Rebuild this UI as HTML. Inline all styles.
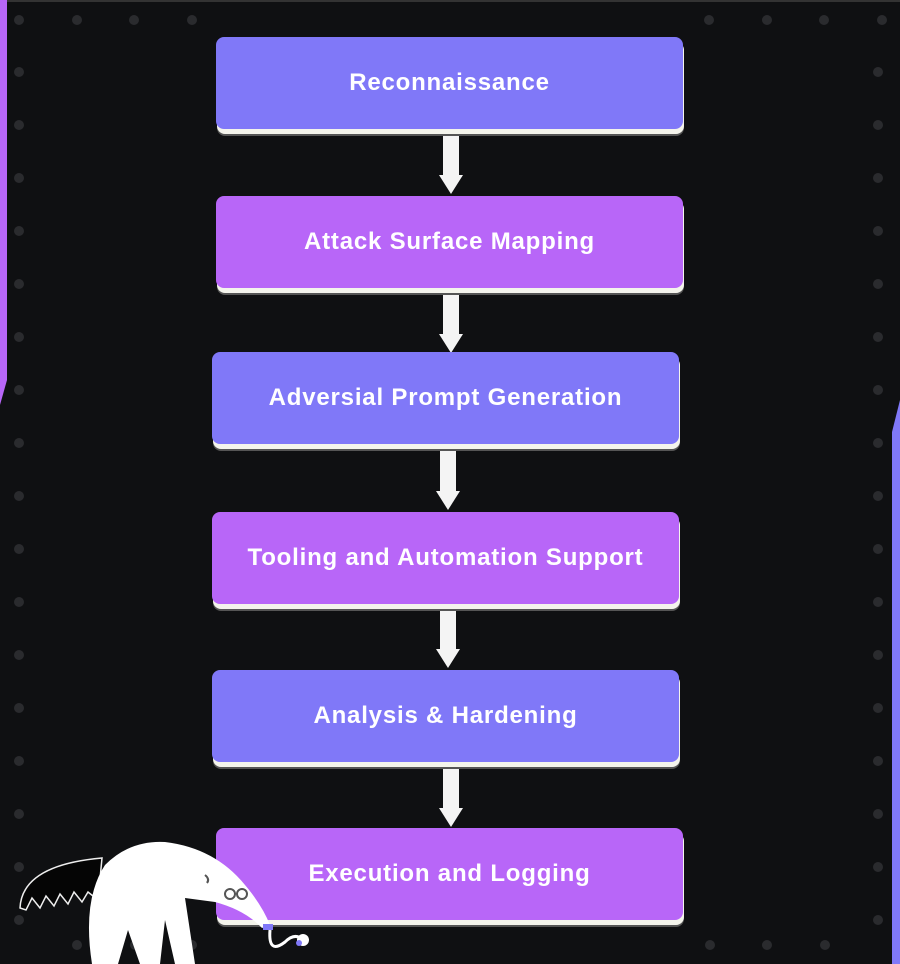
<!DOCTYPE html>
<html><head><style>
html,body{margin:0;padding:0}
body{width:900px;height:964px;background:#0f1012;position:relative;overflow:hidden;font-family:"Liberation Sans",sans-serif}
.b{position:absolute;width:467px;height:92px;border-radius:8px;color:#fff;font-weight:bold;font-size:24px;display:flex;align-items:center;justify-content:center;box-shadow:1px 5px 0 #f4f4ec,1px 7px 0 #555;letter-spacing:0.8px}
.bl{background:#8078f8}.pu{background:#b866f8}
.d{position:absolute;width:10px;height:10px;border-radius:50%;background:#2a2b2e}
</style></head><body>
<div style="position:absolute;left:0;top:0;width:900px;height:2px;background:#333"></div>
<svg style="position:absolute;left:0;top:0" width="900" height="964">
<polygon points="0,0 7,0 7,380 0,405" fill="#b866f8"/>
<polygon points="900,400 900,964 892,964 892,432" fill="#8078f8"/>
<g fill="#f4f4f4">
<rect x="443" y="131" width="16" height="46"/><polygon points="439,175 463,175 451,194"/>
<rect x="443" y="292" width="16" height="44"/><polygon points="439,334 463,334 451,353"/>
<rect x="440" y="447" width="16" height="46"/><polygon points="436,491 460,491 448,510"/>
<rect x="440" y="607" width="16" height="44"/><polygon points="436,649 460,649 448,668"/>
<rect x="443" y="766" width="16" height="44"/><polygon points="439,808 463,808 451,827"/>
</g>
</svg>
<div id="dots"></div>
<div class="b bl" style="left:216px;top:37px">Reconnaissance</div>
<div class="b pu" style="left:216px;top:196px">Attack Surface Mapping</div>
<div class="b bl" style="left:212px;top:352px">Adversial Prompt Generation</div>
<div class="b pu" style="left:212px;top:512px">Tooling and Automation Support</div>
<div class="b bl" style="left:212px;top:670px">Analysis &amp; Hardening</div>
<div class="b pu" style="left:216px;top:828px">Execution and Logging</div>
<svg style="position:absolute;left:0;top:830px" width="340" height="134">
<path d="M20,78 Q22,35 102,28 L98,70 L88,62 L82,72 L74,62 L68,74 L60,64 L54,76 L46,66 L40,78 L32,68 L26,80 Z" fill="#050505" stroke="#eee" stroke-width="1.5"/>
<path d="M92,134 Q82,70 105,35 Q130,10 165,12 Q215,18 245,55 Q262,75 270,95 L262,98 Q245,80 215,72 Q200,70 185,68 L195,134 L175,134 L165,90 L160,134 L140,134 L128,100 L118,134 Z" fill="#fff"/>
<path d="M205,45 q5,4 2,8" stroke="#555" stroke-width="2" fill="none"/>
<circle cx="230" cy="64" r="5" fill="none" stroke="#555" stroke-width="2"/><circle cx="242" cy="64" r="5" fill="none" stroke="#555" stroke-width="2"/>
<rect x="263" y="94" width="10" height="6" fill="#8078f8"/>
<path d="M270,100 Q268,125 285,112 Q295,102 303,110" stroke="#fff" stroke-width="3" fill="none"/>
<circle cx="303" cy="110" r="6" fill="#fff"/><circle cx="299" cy="113" r="3" fill="#8078f8"/>
</svg>
<script>
var h='';
function d(x,y){h+='<div class="d" style="left:'+(x-5)+'px;top:'+(y-5)+'px"></div>';}
for(var x=19;x<900;x+=57.5){if(x<205||x>690)d(x,20);}
for(var y=72;y<940;y+=53){d(19,y);d(878,y);}
for(var x=77;x<880;x+=57.5){if(x<205||x>690)d(x,945);}
document.getElementById('dots').innerHTML=h;
</script>
</body></html>
